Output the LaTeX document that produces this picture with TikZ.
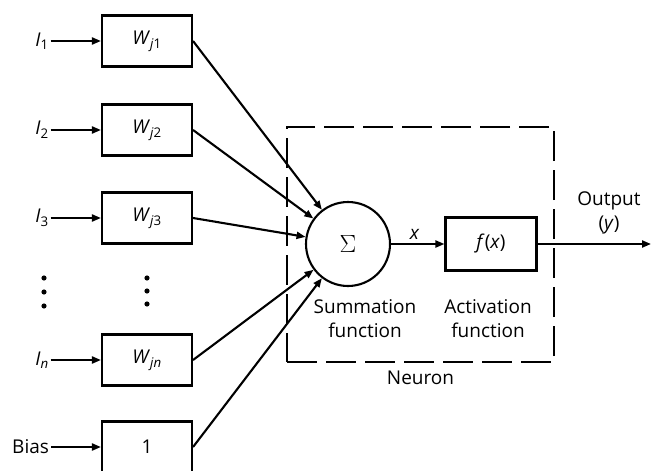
\documentclass[tikz,border=0pt]{standalone}
\usepackage{fontspec}
\setmainfont{Open Sans}
\usetikzlibrary{arrows.meta,positioning}
\newcommand\wgt[1]{\textit{W}\textsubscript{\textit{j}#1}}
\newcommand\inp[1]{\textit{I}\textsubscript{#1}}

\begin{document}
\begin{tikzpicture}[x=1pt,y=-1pt,->,>={Triangle[length=9pt,width=7pt]}, line width=2.1pt,
	font=\fontsize{19}{24}\selectfont,
	wbox/.style={rectangle,draw,minimum width=90pt,minimum height=51pt,inner sep=0pt},
	lbl/.style={inner sep=1pt}]
	\useasboundingbox (0,0) rectangle (651,471);
	% weights
	\node [wbox] (w1) at (147,41) {\wgt{1}};
	\node [wbox] (w2) at (147,130) {\wgt{2}};
	\node [wbox] (w3) at (147,218) {\wgt{3}};
	\node [wbox] (wn) at (147,360) {\wgt{\textit{n}}};
	\node [wbox] (wb) at (147,447) {1};
	% inputs
	\node [lbl] (i1) at (42,41) {\inp{1}};
	\node [lbl] (i2) at (42,130) {\inp{2}};
	\node [lbl] (i3) at (42,218) {\inp{3}};
	\node [lbl] (in) at (42,360) {\inp{\textit{n}}};
	\node [lbl,anchor=east] (bias) at (51,447) {Bias};
	\foreach \y in {278,292,306} {\fill (44,\y) circle (2.6);}
	\foreach \y in {278,291,304} {\fill (147,\y) circle (2.6);}
	% neuron
	\node [draw,dashed,dash pattern=on 30pt off 9pt,minimum width=267pt,minimum height=235pt] (neuron) at (420.5,244.5) {};
	\node [below=3pt of neuron] (nlbl) {Neuron};
	\node [circle,draw,minimum size=84pt,inner sep=0pt] (sum) at (348,244) {\fontsize{26}{26}\selectfont$\Sigma$};
	\node [rectangle,draw,minimum width=91pt,minimum height=53pt] (act) at (491,244) {\textit{f}(\textit{x})};
	\node [align=center] (sumlbl) at (365,319) {Summation\\function};
	\node [align=center] (actlbl) at (488,319) {Activation\\function};
	\node [align=center] (outlbl) at (609,213) {Output\\(\textit{y})};
	\coordinate (out) at (651,244);
	\path (i1) edge (w1);
	\path (i2) edge (w2);
	\path (i3) edge (w3);
	\path (in) edge (wn);
	\path (bias) edge (wb);
	\path (w1.east) edge (sum);
	\path (w2.east) edge (sum);
	\path (w3.east) edge (sum);
	\path (wn.east) edge (sum);
	\path (wb.east) edge (sum);
	\draw (sum) -- (act) node [midway,above,xshift=-3pt] {\textit{x}};
	\draw (act) -- (out);
\end{tikzpicture}
\end{document}
